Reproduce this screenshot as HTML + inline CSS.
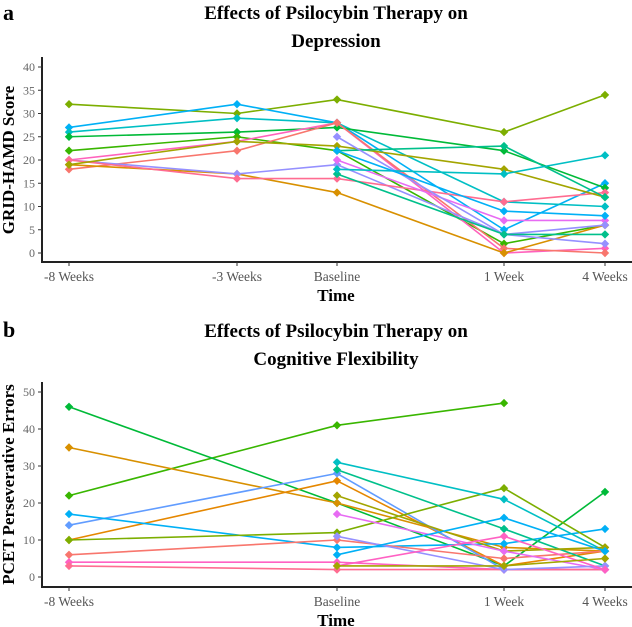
<!DOCTYPE html>
<html><head><meta charset="utf-8">
<style>
html,body{margin:0;padding:0;background:#fff;}
svg{display:block;font-family:"Liberation Serif",serif;}
</style></head>
<body>
<svg id="chart" width="632" height="627" viewBox="0 0 632 627">
<text x="3" y="20" font-size="22" font-weight="bold">a</text>
<text x="336" y="19" font-size="19" font-weight="bold" text-anchor="middle">Effects of Psilocybin Therapy on</text>
<text x="336" y="47" font-size="19" font-weight="bold" text-anchor="middle">Depression</text>
<text x="3" y="337" font-size="22" font-weight="bold">b</text>
<text x="336" y="337" font-size="19" font-weight="bold" text-anchor="middle">Effects of Psilocybin Therapy on</text>
<text x="336" y="365" font-size="19" font-weight="bold" text-anchor="middle">Cognitive Flexibility</text>
<g id="pa"></g>
<g id="pb"></g>
</svg>
<script>
const catsA = ["-8 Weeks","-3 Weeks","Baseline","1 Week","4 Weeks"];
const ticksA = [0,5,10,15,20,25,30,35,40];
const colorsA = ["#7CAE00","#00B0F6","#00BFC4","#00BA38","#39B600","#FF62BC","#F8766D","#D89000","#9590FF","#FF6C91","#A3A500","#00C08B","#E76BF3","#9590FF","#00C08B","#00BFC4","#00B0F6"];
const valuesA = [
 [32,30,33,26,34],
 [27,32,28,5,15],
 [26,29,28,11,10],
 [25,26,27,22,14],
 [22,25,22,2,6],
 [20,24,28,0,1],
 [18,22,28,1,0],
 [19,17,13,0,6],
 [20,17,19,4,2],
 [20,16,16,11,13],
 [19,24,23,18,12],
 [null,null,22,23,12],
 [null,null,20,7,7],
 [null,null,25,4,6],
 [null,null,17,4,4],
 [null,null,18,17,21],
 [null,null,22,9,8]
];
const catsB = ["-8 Weeks","Baseline","1 Week","4 Weeks"];
const ticksB = [0,10,20,30,40,50];
const colorsB = ["#39B600","#00BA38","#D89000","#E58700","#619CFF","#00B0F6","#7CAE00","#F8766D","#FF61C3","#FF6C91","#00BFC4","#00C08B","#A3A500","#E76BF3","#9590FF","#FF61C3","#A3A500","#00B0F6"];
const valuesB = [
 [22,41,47,null],
 [46,20,3,23],
 [35,20,8,7],
 [10,26,3,7],
 [14,28,2,2],
 [17,8,9,13],
 [10,12,24,8],
 [6,10,5,7],
 [4,4,2,2],
 [3,2,2,2],
 [null,31,21,7],
 [null,29,13,3],
 [null,22,7,8],
 [null,17,7,2],
 [null,11,2,3],
 [null,3,11,2],
 [null,3,3,5],
 [null,6,16,7]
];
const NS="http://www.w3.org/2000/svg";
function mk(parent,tag,attrs){const e=document.createElementNS(NS,tag);for(const k in attrs)e.setAttribute(k,attrs[k]);parent.appendChild(e);return e;}
function panel(g,cats,xpos,ticks,vals,colors,y0,yTop,vmax,axisY,ytitle,pfx){
 const ys=v=>y0-(v/vmax)*(y0-yTop);
 const xs=i=>xpos[i];
 const ax=mk(g,"line",{x1:42,y1:yTop-10,x2:42,y2:axisY,stroke:"#222","stroke-width":2});
 
 
 const bx=mk(g,"line",{x1:41,y1:axisY,x2:632,y2:axisY,stroke:"#222","stroke-width":2});
 
 
 ticks.forEach(t=>{
  mk(g,"line",{x1:38,y1:ys(t),x2:42,y2:ys(t),stroke:"#333","stroke-width":1});
  const tx=mk(g,"text",{x:35,y:ys(t)+4,"font-size":12,fill:"#666","text-anchor":"end"});
  tx.textContent=t;
  
  
 });
 cats.forEach((c,i)=>{
  mk(g,"line",{x1:xs(i),y1:axisY,x2:xs(i),y2:axisY+4,stroke:"#333","stroke-width":1});
  const tx=mk(g,"text",{x:xs(i),y:axisY+19,"font-size":13.5,fill:"#555","text-anchor":"middle"});
  tx.textContent=c;
  
  
 });
 const xt=mk(g,"text",{x:336,y:axisY+39,"font-size":17,"font-weight":"bold","text-anchor":"middle"});
 xt.textContent="Time";
 
 
 const cy=(y0+yTop)/2;
 const yt=mk(g,"text",{x:0,y:0,"font-size":17,"font-weight":"bold","text-anchor":"middle",transform:`translate(14,${cy}) rotate(-90)`});
 yt.textContent=ytitle;
 
 
 vals.forEach((s,si)=>{
  const col=colors[si%colors.length];
  const sg=mk(g,"g",{});
  
  
  let prev=null;
  s.forEach((v,i)=>{
   if(v===null){prev=null;return;}
   if(prev!==null) mk(sg,"line",{x1:xs(prev),y1:ys(s[prev]),x2:xs(i),y2:ys(v),stroke:col,"stroke-width":1.6});
   prev=i;
  });
  s.forEach((v,i)=>{
   if(v===null)return;
   const x=xs(i),y=ys(v),r=4.2;
   const p=mk(sg,"polygon",{points:`${x},${y-r} ${x+r},${y} ${x},${y+r} ${x-r},${y}`,fill:col});
   
   
  });
 });
}
panel(document.getElementById("pa"),catsA,[69,237,337,504,605],ticksA,valuesA,colorsA,253,67,40,262,"GRID-HAMD Score","depression");
panel(document.getElementById("pb"),catsB,[69,337,504,605],ticksB,valuesB,colorsB,577,392,50,587,"PCET Perseverative Errors","cognitive");
</script>
</body></html>
